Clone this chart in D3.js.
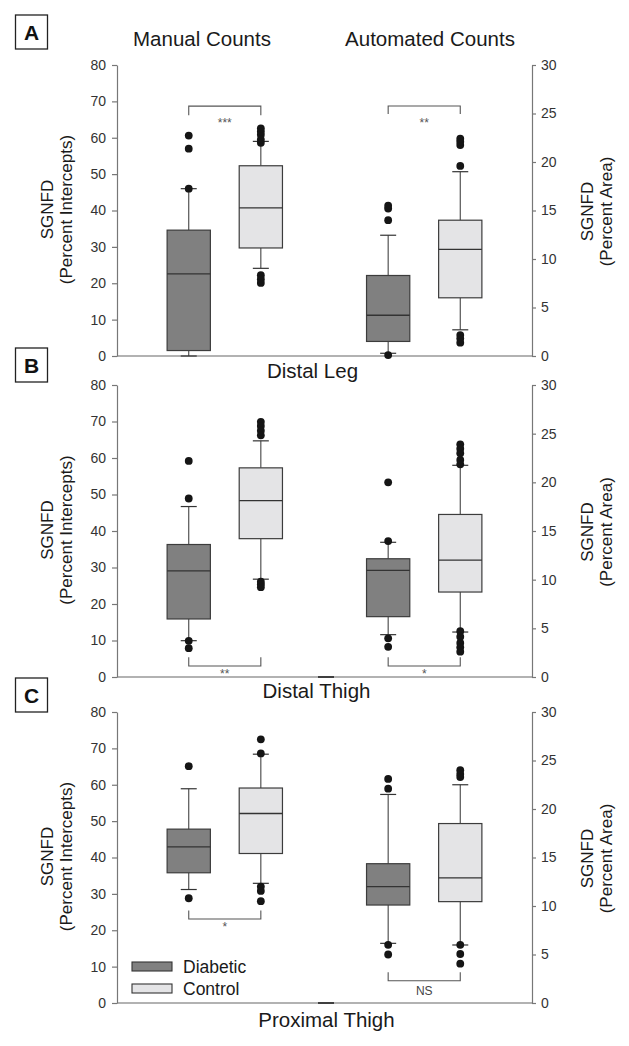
<!DOCTYPE html>
<html><head><meta charset="utf-8">
<script src="https://cdn.jsdelivr.net/npm/d3@7"></script>
<style>body{margin:0;background:#fff}svg{display:block}text{font-family:"Liberation Sans",Arial,sans-serif}</style>
</head><body><svg id="c" width="629" height="1046"></svg>
<script>
// ---------------- data ----------------
const panelLetters = ["A", "B", "C"];
const regions = ["Distal Leg", "Distal Thigh", "Proximal Thigh"];
const methods = ["Manual Counts", "Automated Counts"];
const groups = ["Diabetic", "Control"];
const leftTicks = [0, 10, 20, 30, 40, 50, 60, 70, 80];
const rightTicks = [0, 5, 10, 15, 20, 25, 30];

// box stats per panel: [lower whisker, Q1, median, Q3, upper whisker]
const manualDiabetic = [[0, 1.5, 22.6, 34.6, 46.0], [9.95, 15.9, 29.1, 36.3, 46.7], [31.2, 35.8, 42.9, 47.8, 58.9]];
const manualControl = [[24.1, 29.7, 40.7, 52.3, 59.0], [26.8, 37.9, 48.3, 57.3, 64.7], [32.9, 41.1, 52.1, 59.1, 68.4]];
const autoDiabetic = [[0.28, 1.5, 4.2, 8.3, 12.45], [4.35, 6.2, 10.96, 12.15, 13.84], [6.15, 10.1, 12.0, 14.36, 21.5]];
const autoControl = [[2.7, 6.0, 11.0, 14.0, 19.0], [4.62, 8.73, 12.0, 16.7, 21.75], [5.98, 10.45, 12.9, 18.5, 22.5]];

// outliers per panel
const manualDiabeticOut = [[46.0, 57.0, 60.6], [59.2, 48.9, 9.9, 7.9], [65.1, 28.8]];
const manualControlOut = [[58.6, 59.5, 60.8, 61.7, 62.6, 22.2, 21.1, 20.1], [69.9, 68.8, 67.5, 66.2, 26.1, 25.4, 24.6], [72.5, 68.6, 32.0, 30.8, 28.0]];
const autoDiabeticOut = [[0.1, 14.0, 15.2, 15.5], [20.0, 13.97, 3.97, 3.1], [23.1, 22.1, 6.0, 5.0]];
const autoControlOut = [[19.6, 21.75, 22.1, 22.4, 2.16, 1.8, 1.37], [23.9, 23.45, 23.0, 22.3, 21.85, 4.7, 4.14, 3.5, 3.05, 2.6], [24.0, 23.6, 23.3, 6.0, 5.05, 4.05]];

// significance brackets: [line value, tick-end value, label]
const manualBrackets = [[68.7, 66.2, "***"], [3.0, 5.4, "**"], [23.1, 25.4, "*"]];
const autoBrackets = [[25.77, 24.95, "**"], [1.13, 2.02, "*"], [2.3, 3.16, "NS"]];

// ---------------- layout ----------------
const W = 629, H = 1046;
const xL = 117, xR = 532;
const panelY = [[356, 65], [677, 385], [1003, 712]];
const letterBoxY = [15, 348, 678];
const regionLabelX = [312.5, 316.5, 326.5];
const regionLabelY = [378, 698, 1027];
const colDiab = "#808080", colCtrl = "#e4e4e6", boxStroke = "#3c3c3c", axisCol = "#777";

const svg = d3.select("#c");
const outer = d3.scaleBand().domain(methods).range([xL, xR]).paddingInner(0.277).paddingOuter(0.179);
const inner = d3.scaleBand().domain(groups).range([0, outer.bandwidth()]);
const boxW = inner.bandwidth() * 0.6;
const capW = boxW * 0.37;
const fillOf = { Diabetic: colDiab, Control: colCtrl };

// titles
[["Manual Counts", 202], ["Automated Counts", 430]].forEach(([t, x]) => {
  svg.append("text").attr("x", x).attr("y", 45.7).attr("text-anchor", "middle")
    .attr("font-size", 20.5).attr("fill", "#1a1a1a").text(t);
});

panelLetters.forEach((letter, p) => {
  const yl = d3.scaleLinear().domain([0, 80]).range(panelY[p]);
  const yr = d3.scaleLinear().domain([0, 30]).range(panelY[p]);
  const g = svg.append("g");

  // letter box
  g.append("rect").attr("x", 15.5).attr("y", letterBoxY[p]).attr("width", 32).attr("height", 34)
    .attr("fill", "#fff").attr("stroke", "#222").attr("stroke-width", 1.3);
  g.append("text").attr("x", 31.5).attr("y", letterBoxY[p] + 24.5).attr("text-anchor", "middle")
    .attr("font-size", 21).attr("font-weight", "bold").attr("fill", "#111").text(letter);

  // bottom line
  g.append("line").attr("x1", xL).attr("x2", xR).attr("y1", yl(0)).attr("y2", yl(0))
    .attr("stroke", "#666").attr("stroke-width", 1.2);
  if (p > 0) {
    g.append("line").attr("x1", 318).attr("x2", 334).attr("y1", yl(0)).attr("y2", yl(0))
      .attr("stroke", "#222").attr("stroke-width", 1.6);
  }

  // axes
  const ax = g.append("g").attr("transform", `translate(${xL},0)`)
    .call(d3.axisLeft(yl).tickValues(leftTicks).tickSize(5).tickSizeOuter(0).tickPadding(6));
  const axr = g.append("g").attr("transform", `translate(${xR},0)`)
    .call(d3.axisRight(yr).tickValues(rightTicks).tickSize(4).tickSizeOuter(0).tickPadding(5));
  [ax, axr].forEach(a => {
    a.select(".domain").attr("stroke", axisCol).attr("stroke-width", 1.2);
    a.selectAll(".tick line").attr("stroke", axisCol).attr("stroke-width", 1.2);
    a.selectAll(".tick text").attr("font-size", 14).attr("fill", "#333")
      .attr("font-family", '"Liberation Sans", Arial, sans-serif');
  });

  // axis titles
  const midY = yl(40);
  [["SGNFD", 53], ["(Percent Intercepts)", 72]].forEach(([t, x]) => {
    g.append("text").attr("transform", `translate(${x},${midY - 1}) rotate(-90)`)
      .attr("text-anchor", "middle").attr("font-size", 17).attr("fill", "#1a1a1a").text(t);
  });
  [["SGNFD", 593], ["(Percent Area)", 612]].forEach(([t, x]) => {
    g.append("text").attr("transform", `translate(${x},${midY + 1}) rotate(-90)`)
      .attr("text-anchor", "middle").attr("font-size", 17).attr("fill", "#1a1a1a").text(t);
  });

  // region label
  g.append("text").attr("x", regionLabelX[p]).attr("y", regionLabelY[p]).attr("text-anchor", "middle")
    .attr("font-size", 20.5).attr("fill", "#1a1a1a").text(regions[p]);

  const series = [
    { m: methods[0], grp: "Diabetic", s: manualDiabetic[p], o: manualDiabeticOut[p], y: yl },
    { m: methods[0], grp: "Control", s: manualControl[p], o: manualControlOut[p], y: yl },
    { m: methods[1], grp: "Diabetic", s: autoDiabetic[p], o: autoDiabeticOut[p], y: yr },
    { m: methods[1], grp: "Control", s: autoControl[p], o: autoControlOut[p], y: yr }
  ];

  series.forEach(d => {
    const cx = outer(d.m) + inner(d.grp) + inner.bandwidth() / 2;
    const [lo, q1, md, q3, hi] = d.s, y = d.y;
    const bg = g.append("g");
    // whiskers
    bg.append("line").attr("x1", cx).attr("x2", cx).attr("y1", y(q3)).attr("y2", y(hi))
      .attr("stroke", "#444").attr("stroke-width", 1.1);
    bg.append("line").attr("x1", cx).attr("x2", cx).attr("y1", y(q1)).attr("y2", y(lo))
      .attr("stroke", "#444").attr("stroke-width", 1.1);
    [lo, hi].forEach(v => bg.append("line").attr("x1", cx - capW / 2).attr("x2", cx + capW / 2)
      .attr("y1", y(v)).attr("y2", y(v)).attr("stroke", "#333").attr("stroke-width", 1.2));
    // box
    bg.append("rect").attr("x", cx - boxW / 2).attr("y", y(q3)).attr("width", boxW).attr("height", y(q1) - y(q3))
      .attr("fill", fillOf[d.grp]).attr("stroke", boxStroke).attr("stroke-width", 1.2);
    bg.append("line").attr("x1", cx - boxW / 2).attr("x2", cx + boxW / 2).attr("y1", y(md)).attr("y2", y(md))
      .attr("stroke", "#333").attr("stroke-width", 1.3);
    // outliers
    bg.selectAll("circle").data(d.o).join("circle")
      .attr("cx", cx).attr("cy", v => y(v)).attr("r", 3.9).attr("fill", "#151515");
  });

  // brackets
  [[methods[0], manualBrackets[p], yl], [methods[1], autoBrackets[p], yr]].forEach(([m, b, y]) => {
    const x1 = outer(m) + inner("Diabetic") + inner.bandwidth() / 2;
    const x2 = outer(m) + inner("Control") + inner.bandwidth() / 2;
    const [lv, tv, lab] = b;
    g.append("path")
      .attr("d", `M${x1},${y(tv)}V${y(lv)}H${x2}V${y(tv)}`)
      .attr("fill", "none").attr("stroke", "#555").attr("stroke-width", 1.1);
    const down = tv < lv;
    const xm = (x1 + x2) / 2;
    if (lab === "NS") {
      g.append("text").attr("x", xm).attr("y", y(lv) + 14.5).attr("text-anchor", "middle")
        .attr("font-size", 12).attr("fill", "#444").text(lab);
    } else {
      g.append("text").attr("x", xm).attr("y", y(lv) + (down ? 21 : 12)).attr("text-anchor", "middle")
        .attr("font-size", 12).attr("fill", "#555").text(lab);
    }
  });

  // legend in panel C
  if (p === 2) {
    const lg = g.append("g");
    groups.forEach((grp, i) => {
      const ry = 962 + i * 22;
      lg.append("rect").attr("x", 132).attr("y", ry).attr("width", 40).attr("height", 9)
        .attr("fill", fillOf[grp]).attr("stroke", "#333").attr("stroke-width", 1.1);
      lg.append("text").attr("x", 183).attr("y", ry + 10.7).attr("font-size", 17.5)
        .attr("fill", "#1a1a1a").text(grp);
    });
  }
});
</script></body></html>
